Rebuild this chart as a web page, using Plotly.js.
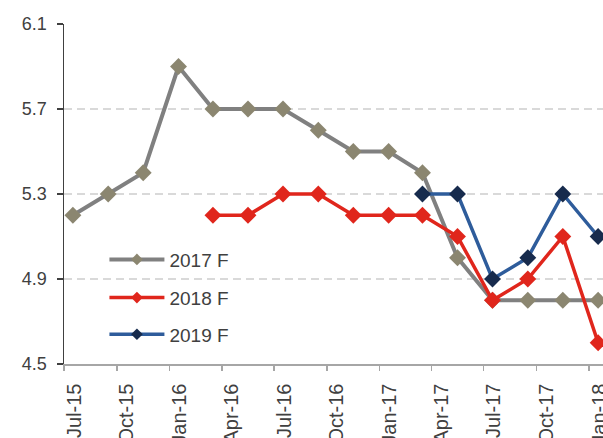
<!DOCTYPE html>
<html>
<head>
<meta charset="utf-8">
<script src="https://cdn.plot.ly/plotly-3.0.1.min.js"></script>
<style>html,body{margin:0;padding:0;background:#fff;}#chart{width:603px;height:438px;}</style>
</head>
<body>
<div id="chart"></div>
<script>
// Months (points every two months, placed mid-month)
const months = ["2015-07","2015-09","2015-11","2016-01","2016-03","2016-05","2016-07","2016-09",
                "2016-11","2017-01","2017-03","2017-05","2017-07","2017-09","2017-11","2018-01"];
const f2017 = [5.2, 5.3, 5.4, 5.9, 5.7, 5.7, 5.7, 5.6, 5.5, 5.5, 5.4, 5.0, 4.8, 4.8, 4.8, 4.8];
const f2018 = [null, null, null, null, 5.2, 5.2, 5.3, 5.3, 5.2, 5.2, 5.2, 5.1, 4.8, 4.9, 5.1, 4.6];
const f2019 = [null, null, null, null, null, null, null, null, null, null, 5.3, 5.3, 4.9, 5.0, 5.3, 5.1];
const seriesNames = ["2017 F", "2018 F", "2019 F"];
const yTicks = [4.5, 4.9, 5.3, 5.7, 6.1];

const lineColors = ["#808080", "#E0261C", "#2E5C9B"];
const markerColors = ["#8B8670", "#E0261C", "#172B4D"];
const lineWidths = [4, 3.5, 3.5];
const series = [f2017, f2018, f2019];
const legendIds = ["legend", "legend2", "legend3"];

const traces = [];
series.forEach((ys, i) => {
  traces.push({
    x: months, y: ys, type: "scatter", mode: "lines+markers",
    xperiod: "M1", xperiodalignment: "middle",
    name: seriesNames[i], showlegend: false, connectgaps: false,
    line: {color: lineColors[i], width: lineWidths[i]},
    marker: {symbol: "diamond", size: 13, color: markerColors[i]}
  });
});
// legend-only entries with smaller markers
series.forEach((ys, i) => {
  traces.push({
    x: [null], y: [null], type: "scatter", mode: "lines+markers",
    name: seriesNames[i], showlegend: true, legend: legendIds[i],
    line: {color: lineColors[i], width: lineWidths[i]},
    marker: {symbol: "diamond", size: 9, color: markerColors[i]}
  });
});

const legendBase = {
  x: 0.075, xanchor: "left", yanchor: "middle",
  bgcolor: "rgba(0,0,0,0)", font: {size: 19, color: "#404040"},
  itemwidth: 55
};
const legendY = [0.307, 0.195, 0.087];

const layout = {
  width: 603, height: 438,
  margin: {l: 64, r: 0, t: 24, b: 74, pad: 0},
  paper_bgcolor: "#ffffff", plot_bgcolor: "#ffffff",
  font: {family: "Liberation Sans, Arial, sans-serif", color: "#404040", size: 18},
  xaxis: {
    type: "date",
    range: ["2015-07-01", "2018-01-25"],
    tick0: "2015-07-01", dtick: "M3", tickformat: "%b-%y",
    tickangle: -90, ticks: "outside", ticklen: 5, tickwidth: 1.5, tickcolor: "#A6A6A6",
    ticklabelshift: 10, ticklabelstandoff: 5, ticklabeloverflow: "allow",
    showline: true, linecolor: "#A6A6A6", linewidth: 1.5,
    showgrid: false, zeroline: false, automargin: false,
    tickfont: {size: 20, color: "#404040"}
  },
  yaxis: {
    range: [4.5, 6.1], tickvals: yTicks, ticktext: yTicks.map(v => v.toFixed(1)),
    ticks: "outside", ticklen: 6, tickwidth: 1.5, tickcolor: "#404040",
    ticklabelstandoff: 6,
    showline: true, linecolor: "#404040", linewidth: 1.5,
    showgrid: true, gridcolor: "#D9D9D9", gridwidth: 1.5, griddash: "8px,5px",
    zeroline: false, automargin: false,
    tickfont: {size: 18, color: "#404040"}
  },
  showlegend: true,
  legend: Object.assign({}, legendBase, {y: legendY[0]}),
  legend2: Object.assign({}, legendBase, {y: legendY[1]}),
  legend3: Object.assign({}, legendBase, {y: legendY[2]})
};

Plotly.newPlot("chart", traces, layout, {displayModeBar: false, staticPlot: true});
</script>
</body>
</html>
